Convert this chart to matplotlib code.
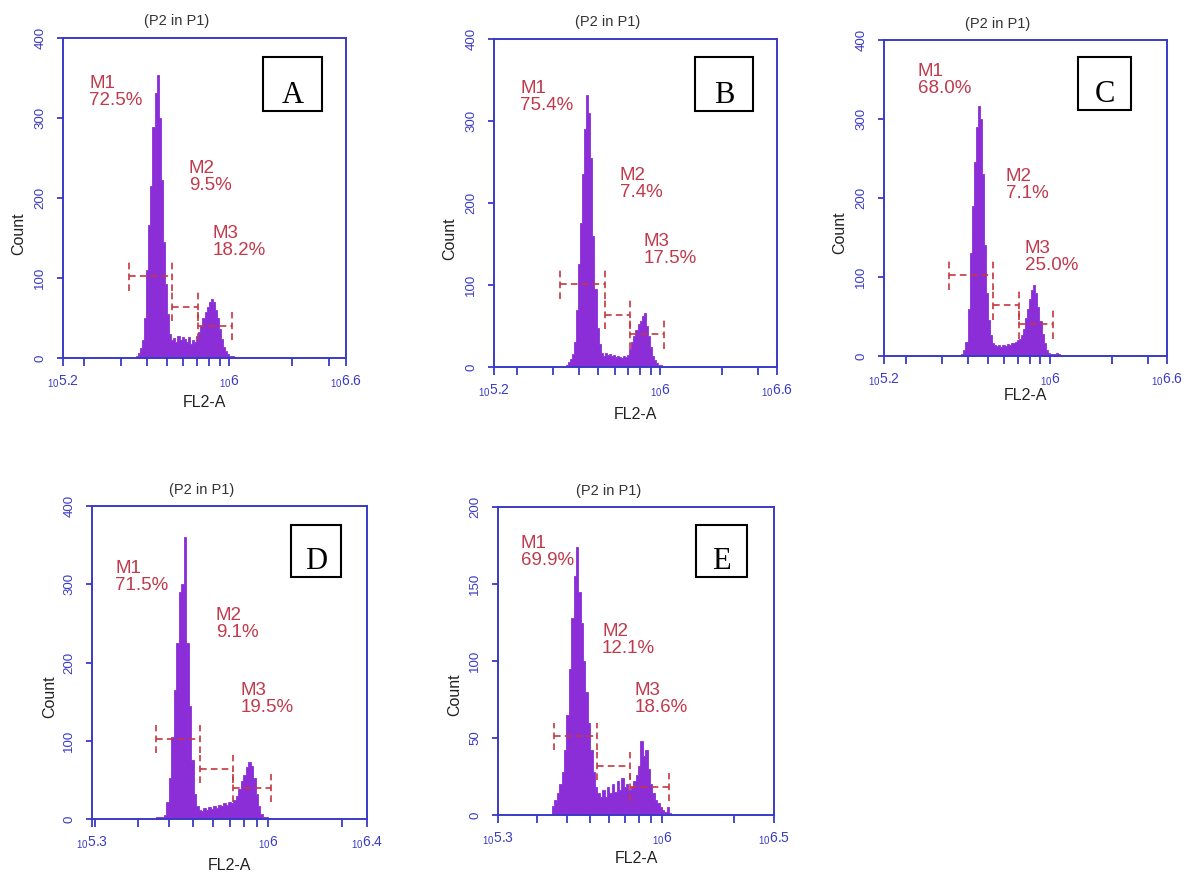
import numpy as np
import matplotlib
matplotlib.use("Agg")
import matplotlib.pyplot as plt
from matplotlib.patches import Rectangle

# ---------------- data ----------------
panel_letters = ["A", "B", "C", "D", "E"]
bin_width = 0.01  # log10 decades per histogram channel

A_start = 5.55
A_counts = [3, 6, 13, 22, 50, 110, 166, 215, 289, 331, 354, 300, 222, 145, 92,
            55, 30, 22, 25, 20, 28, 22, 26, 24, 20, 26, 18, 22, 20, 28, 32, 40,
            50, 58, 64, 70, 74, 70, 60, 50, 36, 24, 14, 9, 5, 3, 2, 1]
B_start = 5.54
B_counts = [3, 6, 10, 16, 30, 70, 125, 175, 235, 290, 332, 310, 255, 160, 95,
            48, 28, 17, 14, 17, 15, 16, 13, 15, 12, 14, 12, 11, 13, 12, 15, 22,
            30, 38, 45, 52, 56, 62, 66, 50, 38, 24, 14, 8, 5, 3, 2, 1]
C_start = 5.57
C_counts = [3, 8, 18, 60, 130, 190, 245, 290, 316, 300, 230, 140, 80, 45, 26,
            16, 14, 13, 14, 12, 14, 13, 15, 14, 16, 17, 18, 20, 22, 26, 34, 48,
            60, 72, 84, 90, 80, 62, 44, 28, 16, 8, 4, 2, 2, 3, 4, 3, 1]
D_start = 5.55
D_counts = [2, 3, 2, 5, 22, 52, 105, 165, 225, 290, 300, 361, 225, 145, 75, 32,
            16, 12, 10, 14, 11, 15, 13, 16, 14, 18, 16, 20, 18, 22, 20, 24, 30,
            38, 48, 56, 66, 73, 68, 52, 32, 16, 7, 3, 2, 1]
E_start = 5.54
E_counts = [6, 10, 14, 20, 28, 42, 65, 95, 128, 155, 174, 145, 125, 100, 80, 60,
            42, 28, 18, 14, 12, 16, 12, 18, 14, 20, 15, 22, 16, 24, 18, 20, 16,
            18, 22, 26, 32, 48, 38, 42, 30, 20, 14, 10, 8, 5, 3, 2, 5, 1]

# marker percentages (M1, M2, M3)
A_pct = ["72.5%", "9.5%", "18.2%"]
B_pct = ["75.4%", "7.4%", "17.5%"]
C_pct = ["68.0%", "7.1%", "25.0%"]
D_pct = ["71.5%", "9.1%", "19.5%"]
E_pct = ["69.9%", "12.1%", "18.6%"]

# marker gate boundaries (log10 FL2-A) and levels (count)
A_gates = [5.516, 5.726, 5.851, 6.013]
B_gates = [5.512, 5.731, 5.853, 6.021]
C_gates = [5.511, 5.725, 5.851, 6.016]
D_gates = [5.548, 5.727, 5.860, 6.013]
E_gates = [5.548, 5.727, 5.866, 6.031]
A_levels = [102, 64, 40]
B_levels = [101, 64, 40]
C_levels = [102, 64, 40]
D_levels = [102, 64, 40]
E_levels = [51, 32, 18]

# axis ranges (log10) and tick labels
A_xrange = (5.2, 6.56)
B_xrange = (5.19, 6.57)
C_xrange = (5.194, 6.57)
D_xrange = (5.29, 6.40)
E_xrange = (5.314, 6.469)
A_xlabels = ["5.2", "6", "6.6"]
B_xlabels = ["5.2", "6", "6.6"]
C_xlabels = ["5.2", "6", "6.6"]
D_xlabels = ["5.3", "6", "6.4"]
E_xlabels = ["5.3", "6", "6.5"]
A_yticks = [0, 100, 200, 300, 400]
B_yticks = [0, 100, 200, 300, 400]
C_yticks = [0, 100, 200, 300, 400]
D_yticks = [0, 100, 200, 300, 400]
E_yticks = [0, 50, 100, 150, 200]

# ---------------- layout / style ----------------
W, H = 1184, 873
axes_px = {  # left, top, right, bottom in pixels
    "A": (63, 38, 346, 358),
    "B": (494, 39, 777, 367),
    "C": (884, 40, 1167, 356),
    "D": (92, 506, 367, 819),
    "E": (498, 507, 774, 815),
}
label_pos = {  # M1, M2, M3 top-left in axes fraction
    "A": [(0.092, 0.884), (0.445, 0.619), (0.530, 0.416)],
    "B": [(0.092, 0.875), (0.445, 0.610), (0.530, 0.410)],
    "C": [(0.120, 0.927), (0.430, 0.595), (0.498, 0.367)],
    "D": [(0.084, 0.827), (0.450, 0.677), (0.540, 0.438)],
    "E": [(0.083, 0.909), (0.377, 0.623), (0.496, 0.432)],
}
box_px = {  # letter box: left, top, right, bottom (pixels)
    "A": (263, 57, 322, 111),
    "B": (695, 57, 753, 111),
    "C": (1078, 57, 1131, 110),
    "D": (291, 525, 341, 577),
    "E": (696, 525, 747, 577),
}
xlabel_y = {"A": -0.14, "B": -0.146, "C": -0.125, "D": -0.147, "E": -0.14}

PURPLE = "#8c2ed8"
RED = "#c8363f"
TEXTRED = "#c03a4c"
BLUE = "#3a3ac6"

panels = {
    "A": (A_start, A_counts, A_pct, A_gates, A_levels, A_xrange, A_xlabels, A_yticks),
    "B": (B_start, B_counts, B_pct, B_gates, B_levels, B_xrange, B_xlabels, B_yticks),
    "C": (C_start, C_counts, C_pct, C_gates, C_levels, C_xrange, C_xlabels, C_yticks),
    "D": (D_start, D_counts, D_pct, D_gates, D_levels, D_xrange, D_xlabels, D_yticks),
    "E": (E_start, E_counts, E_pct, E_gates, E_levels, E_xrange, E_xlabels, E_yticks),
}

plt.rcParams["font.family"] = ["Liberation Sans", "DejaVu Sans"]
fig = plt.figure(figsize=(W / 100, H / 100), dpi=100)
fig.patch.set_facecolor("white")

for key in panel_letters:
    start, counts, pct, gates, levels, xr, xlabs, yticks = panels[key]
    l, t, r, b = axes_px[key]
    ax = fig.add_axes([l / W, (H - b) / H, (r - l) / W, (b - t) / H])
    axw, axh = r - l, b - t

    counts = np.asarray(counts, dtype=float)
    edges = 10 ** (start + bin_width * np.arange(len(counts) + 1))
    ax.set_xscale("log")
    ax.stairs(counts, edges, fill=True, facecolor=PURPLE, edgecolor=PURPLE,
              baseline=0, linewidth=0.6)

    ymax = yticks[-1]
    ax.set_xlim(10 ** xr[0], 10 ** xr[1])
    ax.set_ylim(0, ymax)

    # gates
    half = 0.045 * ymax
    dash = (0, (4, 2.5))
    for i in range(3):
        x1, x2 = 10 ** gates[i], 10 ** gates[i + 1]
        lv = levels[i]
        ax.plot([x1, x2], [lv, lv], color=RED, lw=1.2, linestyle=dash)
        for xv in (x1, x2):
            ax.plot([xv, xv], [lv - half, lv + half], color=RED, lw=1.2, linestyle=dash)

    # marker labels
    for i in range(3):
        px, py = label_pos[key][i]
        ax.text(px, py, f"M{i + 1}\n{pct[i]}", transform=ax.transAxes,
                ha="left", va="top", fontsize=13.5, color=TEXTRED, linespacing=1.0)

    # spines and ticks
    for sp in ax.spines.values():
        sp.set_color(BLUE)
        sp.set_linewidth(1.4)
    ax.set_yticks(yticks)
    ax.set_yticklabels([str(v) for v in yticks])
    major = [10 ** xr[0], 1e6, 10 ** xr[1]]
    ax.set_xticks(major)
    ax.set_xticklabels([r"$_{\mathregular{10}}$" + s for s in xlabs])
    minor = [k * 1e5 for k in range(2, 10)] + [k * 1e6 for k in range(2, 10)]
    minor = [m for m in minor if 10 ** xr[0] * 1.01 < m < 10 ** xr[1] * 0.99]
    ax.set_xticks(minor, minor=True)
    ax.xaxis.set_minor_formatter(matplotlib.ticker.NullFormatter())
    ax.tick_params(axis="x", which="both", direction="out", length=6, width=1.3,
                   color=BLUE, labelcolor=BLUE, labelsize=10, pad=5)
    ax.tick_params(axis="y", which="both", direction="out", length=4, width=1.3,
                   color=BLUE, labelcolor=BLUE, labelsize=9.5, pad=8,
                   labelrotation=90)
    for lab in ax.get_yticklabels():
        lab.set_verticalalignment("center")

    # titles and axis labels
    ax.text(0.40, 1.052, "(P2 in P1)", transform=ax.transAxes, ha="center",
            va="center", fontsize=10.5, color="#333333")
    ax.text(-0.155, 0.39, "Count", transform=ax.transAxes, ha="center",
            va="center", rotation=90, fontsize=11.5, color="#222222")
    ax.text(0.50, xlabel_y[key], "FL2-A", transform=ax.transAxes, ha="center",
            va="center", fontsize=11.5, color="#222222")

    # panel letter box
    bl, bt, br, bb = box_px[key]
    bx0 = (bl - l) / axw
    by0 = (b - bb) / axh
    bw = (br - bl) / axw
    bh = (bb - bt) / axh
    ax.add_patch(Rectangle((bx0, by0), bw, bh, transform=ax.transAxes,
                           facecolor="white", edgecolor="black", lw=1.5, zorder=5))
    ax.text(bx0 + bw / 2, by0 + 8 / axh, key, transform=ax.transAxes,
            ha="center", va="baseline", fontsize=22, color="black",
            family=["Liberation Serif", "DejaVu Serif"], zorder=6)

fig.savefig("out.png", dpi=100)
